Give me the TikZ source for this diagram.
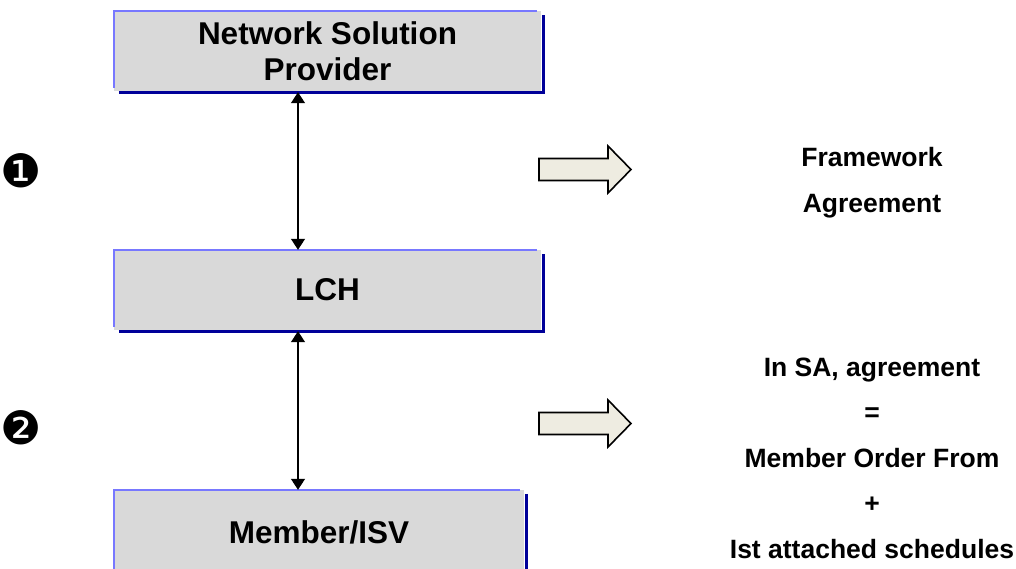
\documentclass[tikz,border=0pt]{standalone}
\usepackage{fontspec}
\setmainfont{Liberation Sans}
\newfontfamily\dejavu{DejaVu Sans}
\usetikzlibrary{arrows.meta}
\definecolor{boxfill}{HTML}{D9D9D9}
\definecolor{litebl}{HTML}{7878FF}
\definecolor{darkbl}{HTML}{000099}
\definecolor{arrfill}{HTML}{EEECE1}
\tikzset{
  boxnode/.style={fill=boxfill, inner sep=0pt, align=center,
    font=\bfseries\fontsize{31.5}{36}\selectfont},
  liteedge/.style={draw=litebl, line width=2.2pt},
  darkedge/.style={draw=darkbl, line width=2.6pt},
  biarrow/.style={line width=1.3pt, {Triangle[length=11pt,width=14pt]}-{Triangle[length=11pt,width=14pt]}},
  rtext/.style={anchor=base, inner sep=0pt, font=\bfseries\fontsize{26.5}{30}\selectfont},
  numnode/.style={inner sep=0pt, font=\dejavu\fontsize{46}{46}\selectfont},
  blockarrow/.pic={\draw[fill=arrfill, line width=1.6pt, line join=miter]
    (-46,-11) -- (23,-11) -- (23,-23.5) -- (46,0) -- (23,23.5) -- (23,11) -- (-46,11) -- cycle;}
}
\begin{document}
\begin{tikzpicture}[x=1pt,y=-1pt]
\clip (0,0) rectangle (1016,568);
\useasboundingbox (0,0) rectangle (1016,568);

% boxes
\node[boxnode, minimum width=427pt, minimum height=80pt] (nsp) at (327.5,51) {Network Solution\\Provider};
\node[boxnode, minimum width=427pt, minimum height=80pt] (lch) at (327.5,290) {LCH};
\node[boxnode, minimum width=410pt, minimum height=84pt] (mem) at (319,532) {Member/ISV};

% bevel edges
\foreach \b in {nsp,lch}{
  \draw[liteedge] ([yshift=3pt]\b.south west) -- (\b.north west) -- ([xshift=-4pt]\b.north east);
  \draw[darkedge] ([xshift=5pt,yshift=-1pt]\b.south west) -- ([xshift=2pt,yshift=-1pt]\b.south east) -- ([xshift=2pt,yshift=-4pt]\b.north east);
}
\draw[liteedge] (mem.south west) -- (mem.north west) -- ([xshift=-4pt]mem.north east);
\draw[darkedge] ([xshift=2pt,yshift=-4pt]mem.north east) -- ([xshift=2pt]mem.south east);

% connectors
\coordinate (ax) at (298,0);
\draw[biarrow] ([yshift=-1pt]nsp.south -| ax) -- (lch.north -| ax);
\draw[biarrow] ([yshift=-1pt]lch.south -| ax) -- (mem.north -| ax);

% step numbers
\node[numnode] (n1) at (21,171) {❶};
\node[numnode] (n2) at (21,428) {❷};

% block arrows
\pic (ba1) at (585,169.5) {blockarrow};
\pic (ba2) at (585,423.5) {blockarrow};

% right texts
\node[rtext] (t1) at (872,166) {Framework};
\node[rtext] (t2) at (872,212) {Agreement};
\node[rtext] (t3) at (872,376) {In SA, agreement};
\node[rtext] (t4) at (872,421.5) {=};
\node[rtext] (t5) at (872,467) {Member Order From};
\node[rtext] (t6) at (872,512.5) {+};
\node[rtext] (t7) at (872,558) {Ist attached schedules};
\end{tikzpicture}
\end{document}
